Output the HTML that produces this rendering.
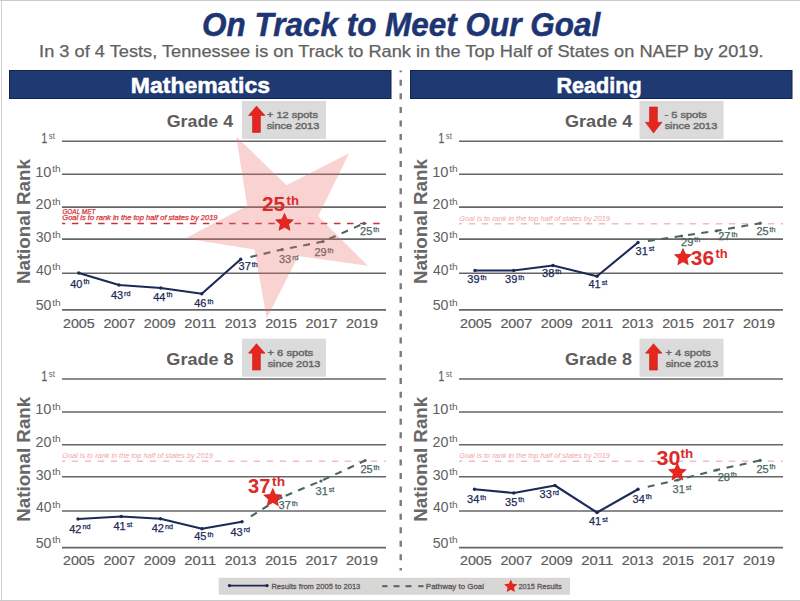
<!DOCTYPE html><html><head><meta charset="utf-8"><style>html,body{margin:0;padding:0;background:#fff;overflow:hidden;width:800px;height:601px;}svg{display:block;}</style></head><body>
<svg width="800" height="601" viewBox="0 0 800 601" style="font-family:'Liberation Sans', sans-serif">
<rect x="0" y="0" width="800" height="601" fill="#fff"/>
<rect x="0" y="0" width="800" height="1" fill="#c9c9c9"/>
<rect x="1" y="0" width="1" height="601" fill="#cfcfcf"/>
<rect x="0" y="600" width="800" height="1" fill="#c9c9c9"/>
<text x="202.07" y="35.80" font-size="33.00" fill="#1d3572" font-weight="bold" font-style="italic" textLength="398.10" lengthAdjust="spacingAndGlyphs" stroke="#1d3572" stroke-width="0.5">On Track to Meet Our Goal</text>
<text x="39.14" y="56.70" font-size="16.50" fill="#616161" font-weight="normal" font-style="normal" textLength="724.51" lengthAdjust="spacingAndGlyphs" stroke="#616161" stroke-width="0.25">In 3 of 4 Tests, Tennessee is on Track to Rank in the Top Half of States on NAEP by 2019.</text>
<rect x="9.5" y="70.5" width="381.5" height="28" fill="#1f3a73" stroke="#11234f" stroke-width="1"/>
<rect x="410.5" y="70.5" width="381.5" height="28" fill="#1f3a73" stroke="#11234f" stroke-width="1"/>
<text x="130.86" y="92.50" font-size="21.20" fill="#fff" font-weight="bold" font-style="normal" textLength="139.08" lengthAdjust="spacingAndGlyphs" stroke="#fff" stroke-width="0.5">Mathematics</text>
<text x="556.56" y="92.80" font-size="21.20" fill="#fff" font-weight="bold" font-style="normal" textLength="85.09" lengthAdjust="spacingAndGlyphs" stroke="#fff" stroke-width="0.5">Reading</text>
<line x1="400.7" y1="70.4" x2="400.7" y2="570.5" stroke="#7a7a7a" stroke-width="2.4" stroke-dasharray="6 7.56" stroke-dashoffset="4.2"/>
<text x="166.77" y="126.90" font-size="17.00" fill="#5c5c5c" font-weight="bold" font-style="normal" textLength="66.33" lengthAdjust="spacingAndGlyphs" >Grade 4</text>
<rect x="242.00" y="101.00" width="84" height="38" fill="#dcdbdb"/>
<polygon points="256.50,106.00 265.00,115.50 260.40,115.50 260.40,132.40 252.50,132.40 252.50,115.50 248.50,115.50" fill="#e4261f" stroke="#c81e1e" stroke-width="0.6"/>
<text x="266.96" y="117.80" font-size="9.60" fill="#686868" font-weight="normal" font-style="normal" textLength="50.93" lengthAdjust="spacingAndGlyphs" stroke="#686868" stroke-width="0.45">+ 12 spots</text>
<text x="266.70" y="129.10" font-size="9.60" fill="#686868" font-weight="normal" font-style="normal" textLength="52.48" lengthAdjust="spacingAndGlyphs" stroke="#686868" stroke-width="0.45">since 2013</text>
<line x1="62.00" y1="141.30" x2="386.00" y2="141.30" stroke="#666666" stroke-width="1.6"/>
<text x="41.42" y="143.40" font-size="13.80" fill="#5f5f5f" font-weight="normal" font-style="normal" textLength="5.68" lengthAdjust="spacingAndGlyphs" stroke="#5f5f5f" stroke-width="0.3">1</text>
<text x="48.78" y="139.10" font-size="8.20" fill="#5f5f5f" font-weight="normal" font-style="normal" textLength="6.07" lengthAdjust="spacingAndGlyphs" >st</text>
<line x1="62.00" y1="174.30" x2="386.00" y2="174.30" stroke="#666666" stroke-width="1.6"/>
<text x="35.18" y="176.50" font-size="13.80" fill="#5f5f5f" font-weight="normal" font-style="normal" textLength="16.29" lengthAdjust="spacingAndGlyphs" >10</text>
<text x="52.15" y="172.20" font-size="8.20" fill="#5f5f5f" font-weight="normal" font-style="normal" textLength="8.52" lengthAdjust="spacingAndGlyphs" >th</text>
<line x1="62.00" y1="207.10" x2="386.00" y2="207.10" stroke="#666666" stroke-width="1.6"/>
<text x="35.58" y="209.00" font-size="13.80" fill="#5f5f5f" font-weight="normal" font-style="normal" textLength="15.88" lengthAdjust="spacingAndGlyphs" >20</text>
<text x="52.15" y="204.70" font-size="8.20" fill="#5f5f5f" font-weight="normal" font-style="normal" textLength="8.52" lengthAdjust="spacingAndGlyphs" >th</text>
<line x1="62.00" y1="239.10" x2="386.00" y2="239.10" stroke="#666666" stroke-width="1.6"/>
<text x="35.76" y="242.00" font-size="13.80" fill="#5f5f5f" font-weight="normal" font-style="normal" textLength="15.69" lengthAdjust="spacingAndGlyphs" >30</text>
<text x="52.15" y="237.70" font-size="8.20" fill="#5f5f5f" font-weight="normal" font-style="normal" textLength="8.52" lengthAdjust="spacingAndGlyphs" >th</text>
<line x1="62.00" y1="273.30" x2="386.00" y2="273.30" stroke="#666666" stroke-width="1.6"/>
<text x="35.98" y="274.75" font-size="13.80" fill="#5f5f5f" font-weight="normal" font-style="normal" textLength="15.46" lengthAdjust="spacingAndGlyphs" >40</text>
<text x="52.15" y="270.45" font-size="8.20" fill="#5f5f5f" font-weight="normal" font-style="normal" textLength="8.52" lengthAdjust="spacingAndGlyphs" >th</text>
<line x1="62.00" y1="309.90" x2="386.00" y2="309.90" stroke="#666666" stroke-width="1.6"/>
<text x="35.73" y="310.00" font-size="13.80" fill="#5f5f5f" font-weight="normal" font-style="normal" textLength="15.72" lengthAdjust="spacingAndGlyphs" >50</text>
<text x="52.15" y="305.70" font-size="8.20" fill="#5f5f5f" font-weight="normal" font-style="normal" textLength="8.52" lengthAdjust="spacingAndGlyphs" >th</text>
<text x="62.98" y="327.60" font-size="13.00" fill="#5a5a5a" font-weight="normal" font-style="normal" textLength="31.72" lengthAdjust="spacingAndGlyphs" stroke="#5a5a5a" stroke-width="0.2">2005</text>
<text x="103.42" y="327.60" font-size="13.00" fill="#5a5a5a" font-weight="normal" font-style="normal" textLength="31.84" lengthAdjust="spacingAndGlyphs" stroke="#5a5a5a" stroke-width="0.2">2007</text>
<text x="143.86" y="327.60" font-size="13.00" fill="#5a5a5a" font-weight="normal" font-style="normal" textLength="31.80" lengthAdjust="spacingAndGlyphs" stroke="#5a5a5a" stroke-width="0.2">2009</text>
<text x="184.30" y="327.60" font-size="13.00" fill="#5a5a5a" font-weight="normal" font-style="normal" textLength="31.82" lengthAdjust="spacingAndGlyphs" stroke="#5a5a5a" stroke-width="0.2">2011</text>
<text x="224.74" y="327.60" font-size="13.00" fill="#5a5a5a" font-weight="normal" font-style="normal" textLength="31.74" lengthAdjust="spacingAndGlyphs" stroke="#5a5a5a" stroke-width="0.2">2013</text>
<text x="265.18" y="327.60" font-size="13.00" fill="#5a5a5a" font-weight="normal" font-style="normal" textLength="31.72" lengthAdjust="spacingAndGlyphs" stroke="#5a5a5a" stroke-width="0.2">2015</text>
<text x="305.62" y="327.60" font-size="13.00" fill="#5a5a5a" font-weight="normal" font-style="normal" textLength="31.84" lengthAdjust="spacingAndGlyphs" stroke="#5a5a5a" stroke-width="0.2">2017</text>
<text x="346.06" y="327.60" font-size="13.00" fill="#5a5a5a" font-weight="normal" font-style="normal" textLength="31.80" lengthAdjust="spacingAndGlyphs" stroke="#5a5a5a" stroke-width="0.2">2019</text>
<text transform="translate(30.00,221.60) rotate(-90)" x="0" y="0" font-size="18" font-weight="bold" fill="#686868" text-anchor="middle" textLength="125" lengthAdjust="spacingAndGlyphs">National Rank</text>
<text x="565.06" y="126.90" font-size="17.00" fill="#5c5c5c" font-weight="bold" font-style="normal" textLength="67.24" lengthAdjust="spacingAndGlyphs" >Grade 4</text>
<rect x="639.50" y="101.00" width="84" height="38" fill="#dcdbdb"/>
<polygon points="653.50,133.00 662.00,122.30 657.40,122.30 657.40,107.00 649.50,107.00 649.50,122.30 645.50,122.30" fill="#e4261f" stroke="#c81e1e" stroke-width="0.6"/>
<text x="664.41" y="117.80" font-size="9.60" fill="#686868" font-weight="normal" font-style="normal" textLength="42.49" lengthAdjust="spacingAndGlyphs" stroke="#686868" stroke-width="0.45">- 5 spots</text>
<text x="664.70" y="129.10" font-size="9.60" fill="#686868" font-weight="normal" font-style="normal" textLength="52.48" lengthAdjust="spacingAndGlyphs" stroke="#686868" stroke-width="0.45">since 2013</text>
<line x1="459.00" y1="141.30" x2="783.00" y2="141.30" stroke="#666666" stroke-width="1.6"/>
<text x="438.42" y="143.40" font-size="13.80" fill="#5f5f5f" font-weight="normal" font-style="normal" textLength="5.68" lengthAdjust="spacingAndGlyphs" stroke="#5f5f5f" stroke-width="0.3">1</text>
<text x="445.78" y="139.10" font-size="8.20" fill="#5f5f5f" font-weight="normal" font-style="normal" textLength="6.07" lengthAdjust="spacingAndGlyphs" >st</text>
<line x1="459.00" y1="174.30" x2="783.00" y2="174.30" stroke="#666666" stroke-width="1.6"/>
<text x="432.18" y="176.50" font-size="13.80" fill="#5f5f5f" font-weight="normal" font-style="normal" textLength="16.29" lengthAdjust="spacingAndGlyphs" >10</text>
<text x="449.15" y="172.20" font-size="8.20" fill="#5f5f5f" font-weight="normal" font-style="normal" textLength="8.52" lengthAdjust="spacingAndGlyphs" >th</text>
<line x1="459.00" y1="207.10" x2="783.00" y2="207.10" stroke="#666666" stroke-width="1.6"/>
<text x="432.58" y="209.00" font-size="13.80" fill="#5f5f5f" font-weight="normal" font-style="normal" textLength="15.88" lengthAdjust="spacingAndGlyphs" >20</text>
<text x="449.15" y="204.70" font-size="8.20" fill="#5f5f5f" font-weight="normal" font-style="normal" textLength="8.52" lengthAdjust="spacingAndGlyphs" >th</text>
<line x1="459.00" y1="239.10" x2="783.00" y2="239.10" stroke="#666666" stroke-width="1.6"/>
<text x="432.76" y="242.00" font-size="13.80" fill="#5f5f5f" font-weight="normal" font-style="normal" textLength="15.69" lengthAdjust="spacingAndGlyphs" >30</text>
<text x="449.15" y="237.70" font-size="8.20" fill="#5f5f5f" font-weight="normal" font-style="normal" textLength="8.52" lengthAdjust="spacingAndGlyphs" >th</text>
<line x1="459.00" y1="273.30" x2="783.00" y2="273.30" stroke="#666666" stroke-width="1.6"/>
<text x="432.98" y="274.75" font-size="13.80" fill="#5f5f5f" font-weight="normal" font-style="normal" textLength="15.46" lengthAdjust="spacingAndGlyphs" >40</text>
<text x="449.15" y="270.45" font-size="8.20" fill="#5f5f5f" font-weight="normal" font-style="normal" textLength="8.52" lengthAdjust="spacingAndGlyphs" >th</text>
<line x1="459.00" y1="309.90" x2="783.00" y2="309.90" stroke="#666666" stroke-width="1.6"/>
<text x="432.73" y="310.00" font-size="13.80" fill="#5f5f5f" font-weight="normal" font-style="normal" textLength="15.72" lengthAdjust="spacingAndGlyphs" >50</text>
<text x="449.15" y="305.70" font-size="8.20" fill="#5f5f5f" font-weight="normal" font-style="normal" textLength="8.52" lengthAdjust="spacingAndGlyphs" >th</text>
<text x="459.98" y="327.60" font-size="13.00" fill="#5a5a5a" font-weight="normal" font-style="normal" textLength="31.72" lengthAdjust="spacingAndGlyphs" stroke="#5a5a5a" stroke-width="0.2">2005</text>
<text x="500.42" y="327.60" font-size="13.00" fill="#5a5a5a" font-weight="normal" font-style="normal" textLength="31.84" lengthAdjust="spacingAndGlyphs" stroke="#5a5a5a" stroke-width="0.2">2007</text>
<text x="540.86" y="327.60" font-size="13.00" fill="#5a5a5a" font-weight="normal" font-style="normal" textLength="31.80" lengthAdjust="spacingAndGlyphs" stroke="#5a5a5a" stroke-width="0.2">2009</text>
<text x="581.30" y="327.60" font-size="13.00" fill="#5a5a5a" font-weight="normal" font-style="normal" textLength="31.82" lengthAdjust="spacingAndGlyphs" stroke="#5a5a5a" stroke-width="0.2">2011</text>
<text x="621.74" y="327.60" font-size="13.00" fill="#5a5a5a" font-weight="normal" font-style="normal" textLength="31.74" lengthAdjust="spacingAndGlyphs" stroke="#5a5a5a" stroke-width="0.2">2013</text>
<text x="662.18" y="327.60" font-size="13.00" fill="#5a5a5a" font-weight="normal" font-style="normal" textLength="31.72" lengthAdjust="spacingAndGlyphs" stroke="#5a5a5a" stroke-width="0.2">2015</text>
<text x="702.62" y="327.60" font-size="13.00" fill="#5a5a5a" font-weight="normal" font-style="normal" textLength="31.84" lengthAdjust="spacingAndGlyphs" stroke="#5a5a5a" stroke-width="0.2">2017</text>
<text x="743.06" y="327.60" font-size="13.00" fill="#5a5a5a" font-weight="normal" font-style="normal" textLength="31.80" lengthAdjust="spacingAndGlyphs" stroke="#5a5a5a" stroke-width="0.2">2019</text>
<text transform="translate(427.00,221.60) rotate(-90)" x="0" y="0" font-size="18" font-weight="bold" fill="#686868" text-anchor="middle" textLength="125" lengthAdjust="spacingAndGlyphs">National Rank</text>
<text x="166.36" y="364.60" font-size="17.00" fill="#5c5c5c" font-weight="bold" font-style="normal" textLength="67.30" lengthAdjust="spacingAndGlyphs" >Grade 8</text>
<rect x="242.00" y="338.70" width="84" height="38" fill="#dcdbdb"/>
<polygon points="256.50,343.70 265.00,353.20 260.40,353.20 260.40,370.10 252.50,370.10 252.50,353.20 248.50,353.20" fill="#e4261f" stroke="#c81e1e" stroke-width="0.6"/>
<text x="267.45" y="355.50" font-size="9.60" fill="#686868" font-weight="normal" font-style="normal" textLength="45.65" lengthAdjust="spacingAndGlyphs" stroke="#686868" stroke-width="0.45">+ 6 spots</text>
<text x="267.70" y="366.80" font-size="9.60" fill="#686868" font-weight="normal" font-style="normal" textLength="52.58" lengthAdjust="spacingAndGlyphs" stroke="#686868" stroke-width="0.45">since 2013</text>
<line x1="62.00" y1="379.00" x2="386.00" y2="379.00" stroke="#666666" stroke-width="1.6"/>
<text x="41.42" y="381.10" font-size="13.80" fill="#5f5f5f" font-weight="normal" font-style="normal" textLength="5.68" lengthAdjust="spacingAndGlyphs" stroke="#5f5f5f" stroke-width="0.3">1</text>
<text x="48.78" y="376.80" font-size="8.20" fill="#5f5f5f" font-weight="normal" font-style="normal" textLength="6.07" lengthAdjust="spacingAndGlyphs" >st</text>
<line x1="62.00" y1="412.00" x2="386.00" y2="412.00" stroke="#666666" stroke-width="1.6"/>
<text x="35.18" y="414.20" font-size="13.80" fill="#5f5f5f" font-weight="normal" font-style="normal" textLength="16.29" lengthAdjust="spacingAndGlyphs" >10</text>
<text x="52.15" y="409.90" font-size="8.20" fill="#5f5f5f" font-weight="normal" font-style="normal" textLength="8.52" lengthAdjust="spacingAndGlyphs" >th</text>
<line x1="62.00" y1="444.80" x2="386.00" y2="444.80" stroke="#666666" stroke-width="1.6"/>
<text x="35.58" y="446.70" font-size="13.80" fill="#5f5f5f" font-weight="normal" font-style="normal" textLength="15.88" lengthAdjust="spacingAndGlyphs" >20</text>
<text x="52.15" y="442.40" font-size="8.20" fill="#5f5f5f" font-weight="normal" font-style="normal" textLength="8.52" lengthAdjust="spacingAndGlyphs" >th</text>
<line x1="62.00" y1="476.80" x2="386.00" y2="476.80" stroke="#666666" stroke-width="1.6"/>
<text x="35.76" y="479.70" font-size="13.80" fill="#5f5f5f" font-weight="normal" font-style="normal" textLength="15.69" lengthAdjust="spacingAndGlyphs" >30</text>
<text x="52.15" y="475.40" font-size="8.20" fill="#5f5f5f" font-weight="normal" font-style="normal" textLength="8.52" lengthAdjust="spacingAndGlyphs" >th</text>
<line x1="62.00" y1="511.00" x2="386.00" y2="511.00" stroke="#666666" stroke-width="1.6"/>
<text x="35.98" y="512.45" font-size="13.80" fill="#5f5f5f" font-weight="normal" font-style="normal" textLength="15.46" lengthAdjust="spacingAndGlyphs" >40</text>
<text x="52.15" y="508.15" font-size="8.20" fill="#5f5f5f" font-weight="normal" font-style="normal" textLength="8.52" lengthAdjust="spacingAndGlyphs" >th</text>
<line x1="62.00" y1="547.60" x2="386.00" y2="547.60" stroke="#666666" stroke-width="1.6"/>
<text x="35.73" y="547.70" font-size="13.80" fill="#5f5f5f" font-weight="normal" font-style="normal" textLength="15.72" lengthAdjust="spacingAndGlyphs" >50</text>
<text x="52.15" y="543.40" font-size="8.20" fill="#5f5f5f" font-weight="normal" font-style="normal" textLength="8.52" lengthAdjust="spacingAndGlyphs" >th</text>
<text x="62.98" y="565.30" font-size="13.00" fill="#5a5a5a" font-weight="normal" font-style="normal" textLength="31.72" lengthAdjust="spacingAndGlyphs" stroke="#5a5a5a" stroke-width="0.2">2005</text>
<text x="103.42" y="565.30" font-size="13.00" fill="#5a5a5a" font-weight="normal" font-style="normal" textLength="31.84" lengthAdjust="spacingAndGlyphs" stroke="#5a5a5a" stroke-width="0.2">2007</text>
<text x="143.86" y="565.30" font-size="13.00" fill="#5a5a5a" font-weight="normal" font-style="normal" textLength="31.80" lengthAdjust="spacingAndGlyphs" stroke="#5a5a5a" stroke-width="0.2">2009</text>
<text x="184.30" y="565.30" font-size="13.00" fill="#5a5a5a" font-weight="normal" font-style="normal" textLength="31.82" lengthAdjust="spacingAndGlyphs" stroke="#5a5a5a" stroke-width="0.2">2011</text>
<text x="224.74" y="565.30" font-size="13.00" fill="#5a5a5a" font-weight="normal" font-style="normal" textLength="31.74" lengthAdjust="spacingAndGlyphs" stroke="#5a5a5a" stroke-width="0.2">2013</text>
<text x="265.18" y="565.30" font-size="13.00" fill="#5a5a5a" font-weight="normal" font-style="normal" textLength="31.72" lengthAdjust="spacingAndGlyphs" stroke="#5a5a5a" stroke-width="0.2">2015</text>
<text x="305.62" y="565.30" font-size="13.00" fill="#5a5a5a" font-weight="normal" font-style="normal" textLength="31.84" lengthAdjust="spacingAndGlyphs" stroke="#5a5a5a" stroke-width="0.2">2017</text>
<text x="346.06" y="565.30" font-size="13.00" fill="#5a5a5a" font-weight="normal" font-style="normal" textLength="31.80" lengthAdjust="spacingAndGlyphs" stroke="#5a5a5a" stroke-width="0.2">2019</text>
<text transform="translate(30.00,459.30) rotate(-90)" x="0" y="0" font-size="18" font-weight="bold" fill="#686868" text-anchor="middle" textLength="125" lengthAdjust="spacingAndGlyphs">National Rank</text>
<text x="565.06" y="364.60" font-size="17.00" fill="#5c5c5c" font-weight="bold" font-style="normal" textLength="66.99" lengthAdjust="spacingAndGlyphs" >Grade 8</text>
<rect x="639.50" y="338.70" width="84" height="38" fill="#dcdbdb"/>
<polygon points="653.50,343.70 662.00,353.20 657.40,353.20 657.40,370.10 649.50,370.10 649.50,353.20 645.50,353.20" fill="#e4261f" stroke="#c81e1e" stroke-width="0.6"/>
<text x="665.46" y="355.50" font-size="9.60" fill="#686868" font-weight="normal" font-style="normal" textLength="45.34" lengthAdjust="spacingAndGlyphs" stroke="#686868" stroke-width="0.45">+ 4 spots</text>
<text x="665.70" y="366.80" font-size="9.60" fill="#686868" font-weight="normal" font-style="normal" textLength="52.58" lengthAdjust="spacingAndGlyphs" stroke="#686868" stroke-width="0.45">since 2013</text>
<line x1="459.00" y1="379.00" x2="783.00" y2="379.00" stroke="#666666" stroke-width="1.6"/>
<text x="438.42" y="381.10" font-size="13.80" fill="#5f5f5f" font-weight="normal" font-style="normal" textLength="5.68" lengthAdjust="spacingAndGlyphs" stroke="#5f5f5f" stroke-width="0.3">1</text>
<text x="445.78" y="376.80" font-size="8.20" fill="#5f5f5f" font-weight="normal" font-style="normal" textLength="6.07" lengthAdjust="spacingAndGlyphs" >st</text>
<line x1="459.00" y1="412.00" x2="783.00" y2="412.00" stroke="#666666" stroke-width="1.6"/>
<text x="432.18" y="414.20" font-size="13.80" fill="#5f5f5f" font-weight="normal" font-style="normal" textLength="16.29" lengthAdjust="spacingAndGlyphs" >10</text>
<text x="449.15" y="409.90" font-size="8.20" fill="#5f5f5f" font-weight="normal" font-style="normal" textLength="8.52" lengthAdjust="spacingAndGlyphs" >th</text>
<line x1="459.00" y1="444.80" x2="783.00" y2="444.80" stroke="#666666" stroke-width="1.6"/>
<text x="432.58" y="446.70" font-size="13.80" fill="#5f5f5f" font-weight="normal" font-style="normal" textLength="15.88" lengthAdjust="spacingAndGlyphs" >20</text>
<text x="449.15" y="442.40" font-size="8.20" fill="#5f5f5f" font-weight="normal" font-style="normal" textLength="8.52" lengthAdjust="spacingAndGlyphs" >th</text>
<line x1="459.00" y1="476.80" x2="783.00" y2="476.80" stroke="#666666" stroke-width="1.6"/>
<text x="432.76" y="479.70" font-size="13.80" fill="#5f5f5f" font-weight="normal" font-style="normal" textLength="15.69" lengthAdjust="spacingAndGlyphs" >30</text>
<text x="449.15" y="475.40" font-size="8.20" fill="#5f5f5f" font-weight="normal" font-style="normal" textLength="8.52" lengthAdjust="spacingAndGlyphs" >th</text>
<line x1="459.00" y1="511.00" x2="783.00" y2="511.00" stroke="#666666" stroke-width="1.6"/>
<text x="432.98" y="512.45" font-size="13.80" fill="#5f5f5f" font-weight="normal" font-style="normal" textLength="15.46" lengthAdjust="spacingAndGlyphs" >40</text>
<text x="449.15" y="508.15" font-size="8.20" fill="#5f5f5f" font-weight="normal" font-style="normal" textLength="8.52" lengthAdjust="spacingAndGlyphs" >th</text>
<line x1="459.00" y1="547.60" x2="783.00" y2="547.60" stroke="#666666" stroke-width="1.6"/>
<text x="432.73" y="547.70" font-size="13.80" fill="#5f5f5f" font-weight="normal" font-style="normal" textLength="15.72" lengthAdjust="spacingAndGlyphs" >50</text>
<text x="449.15" y="543.40" font-size="8.20" fill="#5f5f5f" font-weight="normal" font-style="normal" textLength="8.52" lengthAdjust="spacingAndGlyphs" >th</text>
<text x="459.98" y="565.30" font-size="13.00" fill="#5a5a5a" font-weight="normal" font-style="normal" textLength="31.72" lengthAdjust="spacingAndGlyphs" stroke="#5a5a5a" stroke-width="0.2">2005</text>
<text x="500.42" y="565.30" font-size="13.00" fill="#5a5a5a" font-weight="normal" font-style="normal" textLength="31.84" lengthAdjust="spacingAndGlyphs" stroke="#5a5a5a" stroke-width="0.2">2007</text>
<text x="540.86" y="565.30" font-size="13.00" fill="#5a5a5a" font-weight="normal" font-style="normal" textLength="31.80" lengthAdjust="spacingAndGlyphs" stroke="#5a5a5a" stroke-width="0.2">2009</text>
<text x="581.30" y="565.30" font-size="13.00" fill="#5a5a5a" font-weight="normal" font-style="normal" textLength="31.82" lengthAdjust="spacingAndGlyphs" stroke="#5a5a5a" stroke-width="0.2">2011</text>
<text x="621.74" y="565.30" font-size="13.00" fill="#5a5a5a" font-weight="normal" font-style="normal" textLength="31.74" lengthAdjust="spacingAndGlyphs" stroke="#5a5a5a" stroke-width="0.2">2013</text>
<text x="662.18" y="565.30" font-size="13.00" fill="#5a5a5a" font-weight="normal" font-style="normal" textLength="31.72" lengthAdjust="spacingAndGlyphs" stroke="#5a5a5a" stroke-width="0.2">2015</text>
<text x="702.62" y="565.30" font-size="13.00" fill="#5a5a5a" font-weight="normal" font-style="normal" textLength="31.84" lengthAdjust="spacingAndGlyphs" stroke="#5a5a5a" stroke-width="0.2">2017</text>
<text x="743.06" y="565.30" font-size="13.00" fill="#5a5a5a" font-weight="normal" font-style="normal" textLength="31.80" lengthAdjust="spacingAndGlyphs" stroke="#5a5a5a" stroke-width="0.2">2019</text>
<text transform="translate(427.00,459.30) rotate(-90)" x="0" y="0" font-size="18" font-weight="bold" fill="#686868" text-anchor="middle" textLength="125" lengthAdjust="spacingAndGlyphs">National Rank</text>
<line x1="62.00" y1="223.50" x2="386.00" y2="223.50" stroke="#cf2d3c" stroke-width="1.7" stroke-dasharray="6.5 6.6" stroke-dashoffset="3.2"/>
<text x="62.38" y="213.50" font-size="6.60" fill="#d8353c" font-weight="normal" font-style="italic" textLength="33.04" lengthAdjust="spacingAndGlyphs" stroke="#d8353c" stroke-width="0.25">GOAL MET</text>
<text x="62.33" y="220.20" font-size="6.60" fill="#d8353c" font-weight="normal" font-style="italic" textLength="155.23" lengthAdjust="spacingAndGlyphs" stroke="#d8353c" stroke-width="0.25">Goal is to rank in the top half of states by 2019</text>
<line x1="459.00" y1="223.80" x2="783.00" y2="223.80" stroke="#f4bcc0" stroke-width="1.5" stroke-dasharray="6.4 6.6" stroke-dashoffset="3.2"/>
<text x="459.34" y="221.00" font-size="6.80" fill="#f0a3a8" font-weight="normal" font-style="italic" textLength="150.51" lengthAdjust="spacingAndGlyphs" >Goal is to rank in the top half of states by 2019</text>
<line x1="62.00" y1="461.20" x2="386.00" y2="461.20" stroke="#f4bcc0" stroke-width="1.5" stroke-dasharray="6.4 6.6" stroke-dashoffset="3.2"/>
<text x="62.34" y="458.40" font-size="6.80" fill="#f0a3a8" font-weight="normal" font-style="italic" textLength="150.51" lengthAdjust="spacingAndGlyphs" >Goal is to rank in the top half of states by 2019</text>
<line x1="459.00" y1="461.20" x2="783.00" y2="461.20" stroke="#f4bcc0" stroke-width="1.5" stroke-dasharray="6.4 6.6" stroke-dashoffset="3.2"/>
<text x="459.34" y="458.40" font-size="6.80" fill="#f0a3a8" font-weight="normal" font-style="italic" textLength="150.51" lengthAdjust="spacingAndGlyphs" >Goal is to rank in the top half of states by 2019</text>
<polyline points="244.60,258.29 282.00,249.60 323.00,241.60 364.00,223.40" fill="none" stroke="#4b6661" stroke-width="2.1" stroke-dasharray="7 6.5" stroke-dashoffset="7.5"/>
<circle cx="282.00" cy="249.60" r="1.6" fill="#4b6661"/>
<circle cx="323.00" cy="241.60" r="1.6" fill="#4b6661"/>
<circle cx="364.00" cy="223.40" r="1.6" fill="#4b6661"/>
<polyline points="78.75,273.00 119.00,285.00 160.80,288.00 201.80,293.80 240.70,259.20" fill="none" stroke="#1b2a58" stroke-width="2.1" stroke-linejoin="round"/>
<circle cx="78.75" cy="273.00" r="1.7" fill="#1b2a58"/>
<circle cx="119.00" cy="285.00" r="1.7" fill="#1b2a58"/>
<circle cx="160.80" cy="288.00" r="1.7" fill="#1b2a58"/>
<circle cx="201.80" cy="293.80" r="1.7" fill="#1b2a58"/>
<circle cx="240.70" cy="259.20" r="1.7" fill="#1b2a58"/>
<text x="70.25" y="287.50" font-size="11" fill="#1b2a58" stroke="#1b2a58" stroke-width="0.25">40<tspan font-size="7.2" dx="0.9" dy="-3.4">th</tspan></text>
<text x="110.95" y="299.00" font-size="11" fill="#1b2a58" stroke="#1b2a58" stroke-width="0.25">43<tspan font-size="7.2" dx="0.9" dy="-3.4">rd</tspan></text>
<text x="153.25" y="300.50" font-size="11" fill="#1b2a58" stroke="#1b2a58" stroke-width="0.25">44<tspan font-size="7.2" dx="0.9" dy="-3.4">th</tspan></text>
<text x="194.25" y="307.00" font-size="11" fill="#1b2a58" stroke="#1b2a58" stroke-width="0.25">46<tspan font-size="7.2" dx="0.9" dy="-3.4">th</tspan></text>
<text x="238.58" y="270.00" font-size="11" fill="#1b2a58" stroke="#1b2a58" stroke-width="0.25">37<tspan font-size="7.2" dx="0.9" dy="-3.4">th</tspan></text>
<text x="278.98" y="263.00" font-size="11" fill="#4b6661" stroke="#4b6661" stroke-width="0.25">33<tspan font-size="7.2" dx="0.9" dy="-3.4">rd</tspan></text>
<text x="314.45" y="256.00" font-size="11" fill="#4b6661" stroke="#4b6661" stroke-width="0.25">29<tspan font-size="7.2" dx="0.9" dy="-3.4">th</tspan></text>
<text x="360.05" y="235.00" font-size="11" fill="#4b6661" stroke="#4b6661" stroke-width="0.25">25<tspan font-size="7.2" dx="0.9" dy="-3.4">th</tspan></text>
<polygon points="236.21,136.46 286.58,185.18 348.99,153.31 318.22,216.27 367.81,265.78 298.42,255.97 266.66,318.43 254.55,249.41 185.33,238.51 247.23,205.66" fill="#eb6b6b" fill-opacity="0.3"/>
<polygon points="284.50,213.50 287.07,219.26 293.34,219.93 288.66,224.15 289.97,230.32 284.50,227.17 279.03,230.32 280.34,224.15 275.66,219.93 281.93,219.26" fill="#e8261c" stroke="#c41d1d" stroke-width="0.7" stroke-linejoin="round"/>
<text x="261.98" y="211.20" font-size="20.00" fill="#dc2a2a" font-weight="bold" font-style="normal" textLength="23.20" lengthAdjust="spacingAndGlyphs" >25</text>
<text x="286.54" y="204.70" font-size="12.50" fill="#dc2a2a" font-weight="bold" font-style="normal" textLength="12.37" lengthAdjust="spacingAndGlyphs" >th</text>
<polyline points="641.96,241.73 681.60,236.00 716.70,230.80 760.20,223.20" fill="none" stroke="#4b6661" stroke-width="2.1" stroke-dasharray="7 6.5" stroke-dashoffset="7.5"/>
<circle cx="681.60" cy="236.00" r="1.6" fill="#4b6661"/>
<circle cx="716.70" cy="230.80" r="1.6" fill="#4b6661"/>
<circle cx="760.20" cy="223.20" r="1.6" fill="#4b6661"/>
<polyline points="475.00,270.50 513.75,270.50 553.00,265.50 597.00,276.25 638.00,242.50" fill="none" stroke="#1b2a58" stroke-width="2.1" stroke-linejoin="round"/>
<circle cx="475.00" cy="270.50" r="1.7" fill="#1b2a58"/>
<circle cx="513.75" cy="270.50" r="1.7" fill="#1b2a58"/>
<circle cx="553.00" cy="265.50" r="1.7" fill="#1b2a58"/>
<circle cx="597.00" cy="276.25" r="1.7" fill="#1b2a58"/>
<circle cx="638.00" cy="242.50" r="1.7" fill="#1b2a58"/>
<text x="467.28" y="283.40" font-size="11" fill="#1b2a58" stroke="#1b2a58" stroke-width="0.25">39<tspan font-size="7.2" dx="0.9" dy="-3.4">th</tspan></text>
<text x="505.08" y="283.40" font-size="11" fill="#1b2a58" stroke="#1b2a58" stroke-width="0.25">39<tspan font-size="7.2" dx="0.9" dy="-3.4">th</tspan></text>
<text x="542.08" y="277.00" font-size="11" fill="#1b2a58" stroke="#1b2a58" stroke-width="0.25">38<tspan font-size="7.2" dx="0.9" dy="-3.4">th</tspan></text>
<text x="588.50" y="288.00" font-size="11" fill="#1b2a58" stroke="#1b2a58" stroke-width="0.25">41<tspan font-size="7.2" dx="0.9" dy="-3.4">st</tspan></text>
<text x="635.58" y="254.60" font-size="11" fill="#1b2a58" stroke="#1b2a58" stroke-width="0.25">31<tspan font-size="7.2" dx="0.9" dy="-3.4">st</tspan></text>
<text x="681.05" y="245.70" font-size="11" fill="#4b6661" stroke="#4b6661" stroke-width="0.25">29<tspan font-size="7.2" dx="0.9" dy="-3.4">th</tspan></text>
<text x="718.25" y="240.40" font-size="11" fill="#4b6661" stroke="#4b6661" stroke-width="0.25">27<tspan font-size="7.2" dx="0.9" dy="-3.4">th</tspan></text>
<text x="756.45" y="235.00" font-size="11" fill="#4b6661" stroke="#4b6661" stroke-width="0.25">25<tspan font-size="7.2" dx="0.9" dy="-3.4">th</tspan></text>
<polygon points="683.00,248.60 685.46,254.12 691.46,254.75 686.98,258.79 688.23,264.70 683.00,261.68 677.77,264.70 679.02,258.79 674.54,254.75 680.54,254.12" fill="#e8261c" stroke="#c41d1d" stroke-width="0.7" stroke-linejoin="round"/>
<text x="690.77" y="265.10" font-size="20.00" fill="#dc2a2a" font-weight="bold" font-style="normal" textLength="23.39" lengthAdjust="spacingAndGlyphs" >36</text>
<text x="715.44" y="258.40" font-size="12.50" fill="#dc2a2a" font-weight="bold" font-style="normal" textLength="12.26" lengthAdjust="spacingAndGlyphs" >th</text>
<polyline points="245.80,519.49 281.00,497.60 321.00,481.00 365.00,460.60" fill="none" stroke="#4b6661" stroke-width="2.1" stroke-dasharray="7 6.5" stroke-dashoffset="7.5"/>
<circle cx="281.00" cy="497.60" r="1.6" fill="#4b6661"/>
<circle cx="321.00" cy="481.00" r="1.6" fill="#4b6661"/>
<circle cx="365.00" cy="460.60" r="1.6" fill="#4b6661"/>
<polyline points="78.00,519.00 121.25,516.50 160.50,518.75 202.00,528.75 242.00,521.75" fill="none" stroke="#1b2a58" stroke-width="2.1" stroke-linejoin="round"/>
<circle cx="78.00" cy="519.00" r="1.7" fill="#1b2a58"/>
<circle cx="121.25" cy="516.50" r="1.7" fill="#1b2a58"/>
<circle cx="160.50" cy="518.75" r="1.7" fill="#1b2a58"/>
<circle cx="202.00" cy="528.75" r="1.7" fill="#1b2a58"/>
<circle cx="242.00" cy="521.75" r="1.7" fill="#1b2a58"/>
<text x="69.25" y="532.50" font-size="11" fill="#1b2a58" stroke="#1b2a58" stroke-width="0.25">42<tspan font-size="7.2" dx="0.9" dy="-3.4">nd</tspan></text>
<text x="113.50" y="530.00" font-size="11" fill="#1b2a58" stroke="#1b2a58" stroke-width="0.25">41<tspan font-size="7.2" dx="0.9" dy="-3.4">st</tspan></text>
<text x="151.75" y="532.00" font-size="11" fill="#1b2a58" stroke="#1b2a58" stroke-width="0.25">42<tspan font-size="7.2" dx="0.9" dy="-3.4">nd</tspan></text>
<text x="194.25" y="540.00" font-size="11" fill="#1b2a58" stroke="#1b2a58" stroke-width="0.25">45<tspan font-size="7.2" dx="0.9" dy="-3.4">th</tspan></text>
<text x="230.50" y="535.50" font-size="11" fill="#1b2a58" stroke="#1b2a58" stroke-width="0.25">43<tspan font-size="7.2" dx="0.9" dy="-3.4">rd</tspan></text>
<text x="278.58" y="509.00" font-size="11" fill="#4b6661" stroke="#4b6661" stroke-width="0.25">37<tspan font-size="7.2" dx="0.9" dy="-3.4">th</tspan></text>
<text x="315.58" y="495.00" font-size="11" fill="#4b6661" stroke="#4b6661" stroke-width="0.25">31<tspan font-size="7.2" dx="0.9" dy="-3.4">st</tspan></text>
<text x="360.45" y="473.00" font-size="11" fill="#4b6661" stroke="#4b6661" stroke-width="0.25">25<tspan font-size="7.2" dx="0.9" dy="-3.4">th</tspan></text>
<polygon points="272.80,488.50 275.42,494.39 281.84,495.06 277.05,499.38 278.38,505.69 272.80,502.46 267.22,505.69 268.55,499.38 263.76,495.06 270.18,494.39" fill="#e8261c" stroke="#c41d1d" stroke-width="0.7" stroke-linejoin="round"/>
<text x="248.14" y="492.90" font-size="20.00" fill="#dc2a2a" font-weight="bold" font-style="normal" textLength="22.34" lengthAdjust="spacingAndGlyphs" >37</text>
<text x="272.08" y="486.10" font-size="12.50" fill="#dc2a2a" font-weight="bold" font-style="normal" textLength="13.02" lengthAdjust="spacingAndGlyphs" >th</text>
<polyline points="641.90,488.12 677.80,480.00 716.70,470.00 760.20,460.40" fill="none" stroke="#4b6661" stroke-width="2.1" stroke-dasharray="7 6.5" stroke-dashoffset="7.5"/>
<circle cx="677.80" cy="480.00" r="1.6" fill="#4b6661"/>
<circle cx="716.70" cy="470.00" r="1.6" fill="#4b6661"/>
<circle cx="760.20" cy="460.40" r="1.6" fill="#4b6661"/>
<polyline points="474.50,489.25 513.75,493.00 555.00,485.50 597.00,512.50 638.00,489.25" fill="none" stroke="#1b2a58" stroke-width="2.1" stroke-linejoin="round"/>
<circle cx="474.50" cy="489.25" r="1.7" fill="#1b2a58"/>
<circle cx="513.75" cy="493.00" r="1.7" fill="#1b2a58"/>
<circle cx="555.00" cy="485.50" r="1.7" fill="#1b2a58"/>
<circle cx="597.00" cy="512.50" r="1.7" fill="#1b2a58"/>
<circle cx="638.00" cy="489.25" r="1.7" fill="#1b2a58"/>
<text x="467.08" y="503.00" font-size="11" fill="#1b2a58" stroke="#1b2a58" stroke-width="0.25">34<tspan font-size="7.2" dx="0.9" dy="-3.4">th</tspan></text>
<text x="505.08" y="505.50" font-size="11" fill="#1b2a58" stroke="#1b2a58" stroke-width="0.25">35<tspan font-size="7.2" dx="0.9" dy="-3.4">th</tspan></text>
<text x="539.58" y="498.00" font-size="11" fill="#1b2a58" stroke="#1b2a58" stroke-width="0.25">33<tspan font-size="7.2" dx="0.9" dy="-3.4">rd</tspan></text>
<text x="589.00" y="525.00" font-size="11" fill="#1b2a58" stroke="#1b2a58" stroke-width="0.25">41<tspan font-size="7.2" dx="0.9" dy="-3.4">st</tspan></text>
<text x="632.58" y="502.50" font-size="11" fill="#1b2a58" stroke="#1b2a58" stroke-width="0.25">34<tspan font-size="7.2" dx="0.9" dy="-3.4">th</tspan></text>
<text x="672.58" y="493.30" font-size="11" fill="#4b6661" stroke="#4b6661" stroke-width="0.25">31<tspan font-size="7.2" dx="0.9" dy="-3.4">st</tspan></text>
<text x="717.65" y="480.60" font-size="11" fill="#4b6661" stroke="#4b6661" stroke-width="0.25">28<tspan font-size="7.2" dx="0.9" dy="-3.4">th</tspan></text>
<text x="756.45" y="472.50" font-size="11" fill="#4b6661" stroke="#4b6661" stroke-width="0.25">25<tspan font-size="7.2" dx="0.9" dy="-3.4">th</tspan></text>
<polygon points="677.40,463.30 679.94,469.00 686.15,469.66 681.51,473.84 682.81,479.94 677.40,476.82 671.99,479.94 673.29,473.84 668.65,469.66 674.86,469.00" fill="#e8261c" stroke="#c41d1d" stroke-width="0.7" stroke-linejoin="round"/>
<text x="656.61" y="464.75" font-size="20.00" fill="#dc2a2a" font-weight="bold" font-style="normal" textLength="23.87" lengthAdjust="spacingAndGlyphs" >30</text>
<text x="680.59" y="458.00" font-size="12.50" fill="#dc2a2a" font-weight="bold" font-style="normal" textLength="12.64" lengthAdjust="spacingAndGlyphs" >th</text>
<rect x="218.75" y="577.75" width="351.25" height="17" fill="#d9d6d6"/>
<line x1="228.5" y1="585.6" x2="268" y2="585.6" stroke="#1b2a58" stroke-width="1.8"/>
<circle cx="229.5" cy="585.6" r="1.7" fill="#1b2a58"/><circle cx="267" cy="585.6" r="1.7" fill="#1b2a58"/>
<text x="271.38" y="588.80" font-size="8.00" fill="#5a5a5a" font-weight="normal" font-style="normal" textLength="88.96" lengthAdjust="spacingAndGlyphs" stroke="#5a5a5a" stroke-width="0.3">Results from 2005 to 2013</text>
<line x1="382.20" y1="586.2" x2="387.50" y2="586.2" stroke="#4b6661" stroke-width="2"/>
<line x1="393.50" y1="586.2" x2="399.50" y2="586.2" stroke="#4b6661" stroke-width="2"/>
<line x1="405.50" y1="586.2" x2="411.50" y2="586.2" stroke="#4b6661" stroke-width="2"/>
<line x1="418.20" y1="586.2" x2="423.50" y2="586.2" stroke="#4b6661" stroke-width="2"/>
<text x="425.85" y="588.80" font-size="8.00" fill="#5a5a5a" font-weight="normal" font-style="normal" textLength="58.18" lengthAdjust="spacingAndGlyphs" stroke="#5a5a5a" stroke-width="0.3">Pathway to Goal</text>
<polygon points="510.80,579.40 512.73,583.74 517.46,584.24 513.93,587.42 514.91,592.06 510.80,589.69 506.69,592.06 507.67,587.42 504.14,584.24 508.87,583.74" fill="#e4261f"/>
<text x="518.43" y="588.90" font-size="8.00" fill="#5a5a5a" font-weight="normal" font-style="normal" textLength="43.34" lengthAdjust="spacingAndGlyphs" stroke="#5a5a5a" stroke-width="0.3">2015 Results</text>
</svg></body></html>
